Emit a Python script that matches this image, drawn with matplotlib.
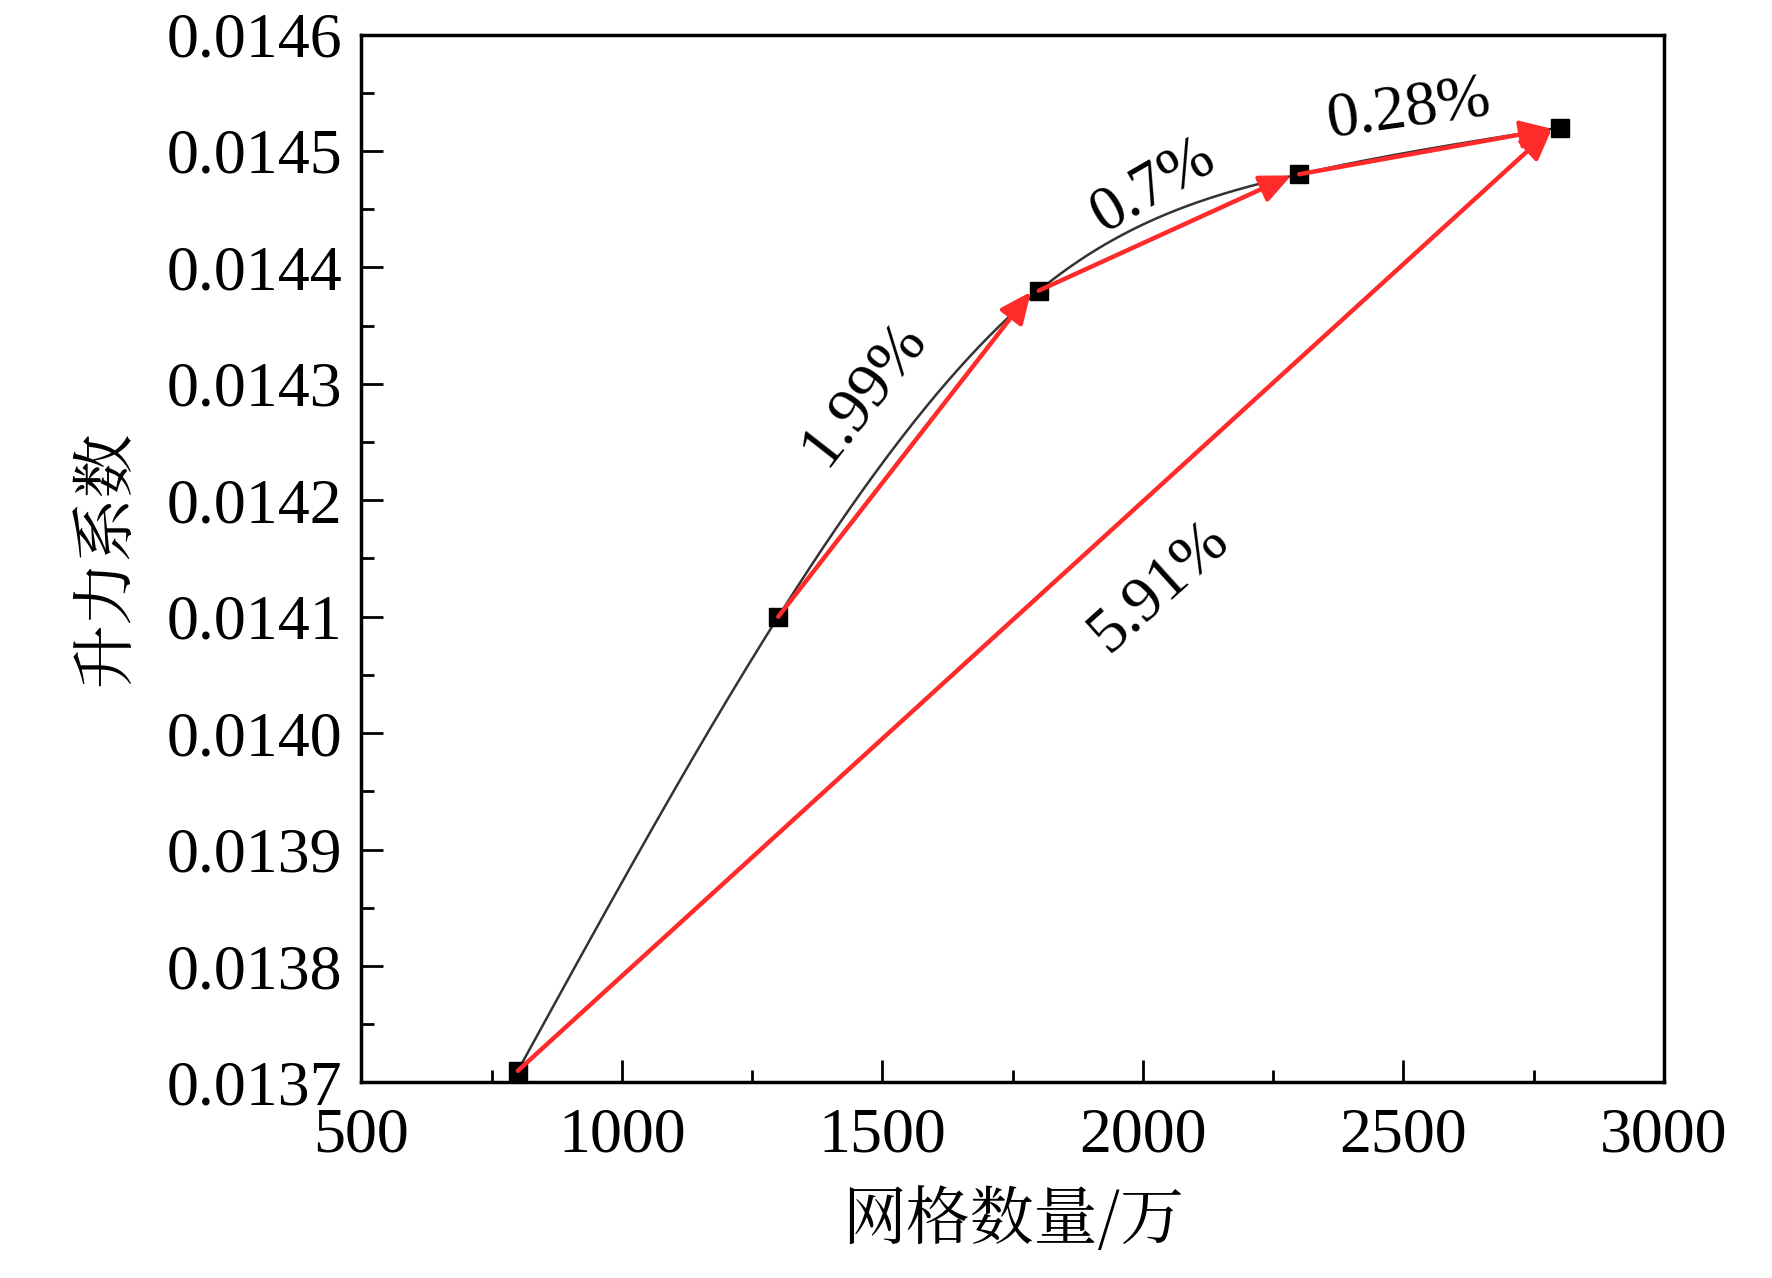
import numpy as np
import matplotlib
matplotlib.use("Agg")
import matplotlib.pyplot as plt

grid = [800, 1300, 1800, 2300, 2800]
lift = [0.01371, 0.01410, 0.01438, 0.01448, 0.01452]
seg_labels = ["1.99%", "0.7%", "0.28%", "5.91%"]

serif = ['Liberation Serif', 'Noto Sans CJK SC']
cjk = ['Noto Serif CJK SC', 'Noto Sans CJK SC', 'Liberation Serif']
plt.rcParams['font.family'] = serif

fig = plt.figure(figsize=(17.72, 12.78), dpi=100)
ax = fig.add_axes([0.204, 0.153, 0.735, 0.82])

# natural cubic spline through the points
x = np.array(grid, float); y = np.array(lift, float)
n = len(x); h = np.diff(x)
A = np.zeros((n, n)); b = np.zeros(n)
A[0, 0] = A[-1, -1] = 1
for i in range(1, n - 1):
    A[i, i - 1] = h[i - 1]; A[i, i] = 2 * (h[i - 1] + h[i]); A[i, i + 1] = h[i]
    b[i] = 6 * ((y[i + 1] - y[i]) / h[i] - (y[i] - y[i - 1]) / h[i - 1])
M = np.linalg.solve(A, b)
xs, ys = [], []
for i in range(n - 1):
    t = np.linspace(x[i], x[i + 1], 60)
    a = x[i + 1] - t; c = t - x[i]
    s = (M[i] * a**3 + M[i + 1] * c**3) / (6 * h[i]) + (y[i] / h[i] - M[i] * h[i] / 6) * a + (y[i + 1] / h[i] - M[i + 1] * h[i] / 6) * c
    xs.extend(t); ys.extend(s)
ax.plot(xs, ys, color='#333333', lw=1.8, zorder=2)
ax.plot(grid, lift, 's', color='black', ms=13, zorder=3)

def arrow(i, j):
    ax.annotate('', xy=(grid[j] - 15, lift[j] - 0.000001), xytext=(grid[i], lift[i]),
                arrowprops=dict(arrowstyle='-|>,head_length=1.9,head_width=0.85', color='#ff2a2a',
                                lw=3.2, shrinkA=0, shrinkB=0), zorder=4)
for i in range(1, 4):
    arrow(i, i + 1)
arrow(0, 4)

fs = 46
ax.text(1465, 0.014292, seg_labels[0], rotation=52, fontsize=fs, ha='center', va='center')
ax.text(2020, 0.014470, seg_labels[1], rotation=30, fontsize=fs, ha='center', va='center')
ax.text(2510, 0.014535, seg_labels[2], rotation=8, fontsize=fs, ha='center', va='center')
ax.text(2030, 0.014125, seg_labels[3], rotation=42, fontsize=fs, ha='center', va='center')

ax.set_xlim(500, 3000)
ax.set_ylim(0.0137, 0.0146)
ax.set_xticks([500, 1000, 1500, 2000, 2500, 3000])
ax.set_yticks(np.arange(0.0137, 0.01461, 0.0001))
ax.set_yticklabels([f"{v:.4f}" for v in np.arange(0.0137, 0.01461, 0.0001)])
ax.set_xticks([750, 1250, 1750, 2250, 2750], minor=True)
ax.set_yticks(np.arange(0.01375, 0.0146, 0.0001), minor=True)
ax.tick_params(which='both', direction='in', labelsize=fs, width=2)
ax.tick_params(which='major', length=16)
ax.tick_params(which='minor', length=9)
ax.tick_params(axis='x', pad=18)
ax.tick_params(axis='y', pad=14)
for sp in ax.spines.values():
    sp.set_linewidth(2.5)
ax.set_xlabel('网格数量/万', fontsize=fs, family=cjk, labelpad=16)
ax.set_ylabel('升力系数', fontsize=fs, family=cjk, labelpad=18)
fig.savefig('out.png', dpi=100)
